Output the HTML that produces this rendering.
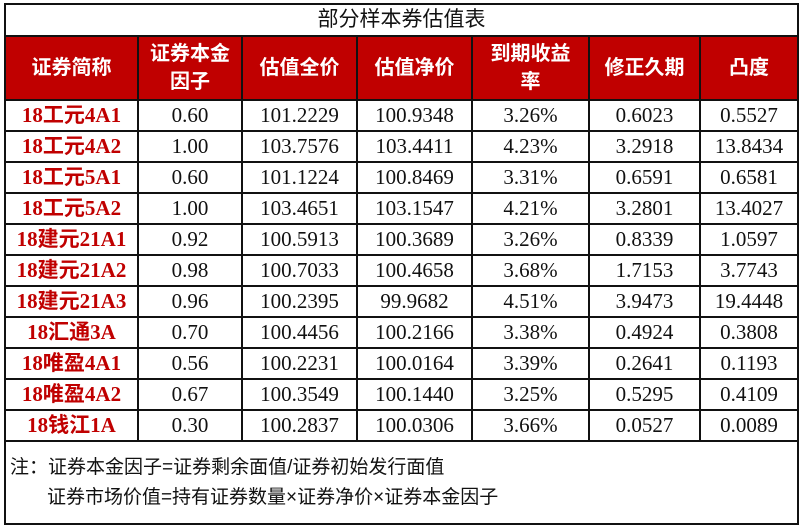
<!DOCTYPE html>
<html><head><meta charset="utf-8"><style>
body{margin:0;background:#fff;width:800px;height:528px;overflow:hidden}
table{position:absolute;left:4px;top:3px;border-collapse:collapse;table-layout:fixed;width:793px}
td{border:2px solid #111;padding:0;text-align:center;font-family:"Liberation Serif","Noto Serif CJK SC",serif;font-size:21px;color:#111;height:29px;line-height:29px;overflow:hidden;white-space:nowrap}
td.n{color:#c00000;font-weight:bold;font-family:"Liberation Serif","Noto Sans CJK SC",serif}
tr.h td{background:#c00000;color:#fff;font-weight:bold;font-family:"Liberation Sans","Noto Sans CJK SC",sans-serif;font-size:20px;line-height:28px;height:62px;white-space:normal}
td.t{font-family:"Liberation Sans","Noto Sans CJK SC",sans-serif;height:30px;line-height:30px}
td.note{text-align:left;font-family:"Liberation Sans","Noto Sans CJK SC",sans-serif;font-size:19px;line-height:30px;height:81px;vertical-align:middle;padding-left:4px}
</style></head><body>
<table>
<colgroup><col style="width:133px"><col style="width:104px"><col style="width:115px"><col style="width:115px"><col style="width:117px"><col style="width:111px"><col style="width:98px"></colgroup>
<tr><td colspan="7" class="t">部分样本券估值表</td></tr>
<tr class="h"><td>证券简称</td><td>证券本金<br>因子</td><td>估值全价</td><td>估值净价</td><td>到期收益<br>率</td><td>修正久期</td><td>凸度</td></tr>
<tr><td class="n">18工元4A1</td><td>0.60</td><td>101.2229</td><td>100.9348</td><td>3.26%</td><td>0.6023</td><td>0.5527</td></tr>
<tr><td class="n">18工元4A2</td><td>1.00</td><td>103.7576</td><td>103.4411</td><td>4.23%</td><td>3.2918</td><td>13.8434</td></tr>
<tr><td class="n">18工元5A1</td><td>0.60</td><td>101.1224</td><td>100.8469</td><td>3.31%</td><td>0.6591</td><td>0.6581</td></tr>
<tr><td class="n">18工元5A2</td><td>1.00</td><td>103.4651</td><td>103.1547</td><td>4.21%</td><td>3.2801</td><td>13.4027</td></tr>
<tr><td class="n">18建元21A1</td><td>0.92</td><td>100.5913</td><td>100.3689</td><td>3.26%</td><td>0.8339</td><td>1.0597</td></tr>
<tr><td class="n">18建元21A2</td><td>0.98</td><td>100.7033</td><td>100.4658</td><td>3.68%</td><td>1.7153</td><td>3.7743</td></tr>
<tr><td class="n">18建元21A3</td><td>0.96</td><td>100.2395</td><td>99.9682</td><td>4.51%</td><td>3.9473</td><td>19.4448</td></tr>
<tr><td class="n">18汇通3A</td><td>0.70</td><td>100.4456</td><td>100.2166</td><td>3.38%</td><td>0.4924</td><td>0.3808</td></tr>
<tr><td class="n">18唯盈4A1</td><td>0.56</td><td>100.2231</td><td>100.0164</td><td>3.39%</td><td>0.2641</td><td>0.1193</td></tr>
<tr><td class="n">18唯盈4A2</td><td>0.67</td><td>100.3549</td><td>100.1440</td><td>3.25%</td><td>0.5295</td><td>0.4109</td></tr>
<tr><td class="n">18钱江1A</td><td>0.30</td><td>100.2837</td><td>100.0306</td><td>3.66%</td><td>0.0527</td><td>0.0089</td></tr>
<tr><td colspan="7" class="note">注：证券本金因子=证券剩余面值/证券初始发行面值<br>&nbsp;&nbsp;&nbsp;&nbsp;&nbsp;&nbsp;&nbsp;证券市场价值=持有证券数量×证券净价×证券本金因子</td></tr>
</table>
</body></html>
